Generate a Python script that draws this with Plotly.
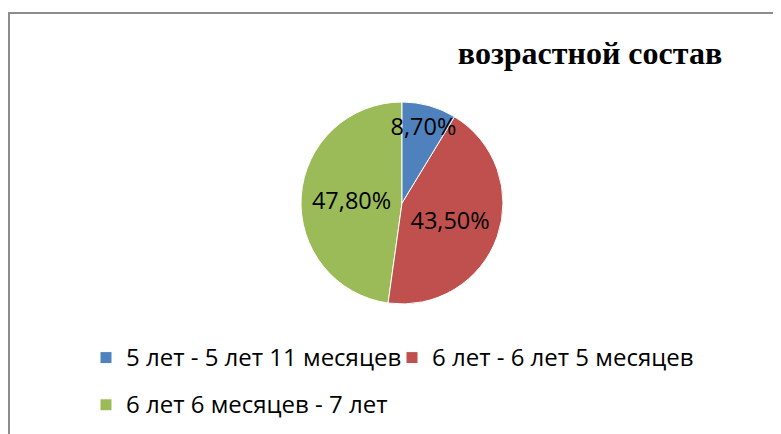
import plotly.graph_objects as go

categories = ["5 лет - 5 лет 11 месяцев", "6 лет - 6 лет 5 месяцев", "6 лет 6 месяцев - 7 лет"]
values = [8.7, 43.5, 47.8]
colors = ["#4F81BD", "#C0504D", "#9BBB59"]
title_text = "возрастной состав"

W, H = 781, 434
OFF = 8  # page body margin offset

# reversed order + counterclockwise = same geometry as clockwise from 12 o'clock,
# but the small slice is drawn last so its label stays on top
labels = [f"<span style='font-size:24px;baseline-shift:5px'>{c}</span>" for c in categories][::-1]
rot = 360 * sum(values[:-1]) / sum(values)

fig = go.Figure(go.Pie(
    labels=labels,
    values=values[::-1],
    sort=False,
    direction="counterclockwise",
    rotation=rot,
    marker=dict(colors=colors[::-1], line=dict(color="white", width=1)),
    texttemplate="%{value:.2f}%",
    textposition="inside",
    insidetextorientation="horizontal",
    textfont=dict(family="Open Sans", size=23.5, color="black"),
    domain=dict(x=[(301 - OFF) / W, (503 - OFF) / W], y=[1 - (304 - OFF) / H, 1 - (102 - OFF) / H]),
    hoverinfo="percent",
))

fig.update_layout(
    width=W, height=H,
    margin=dict(l=0, r=0, t=0, b=0),
    paper_bgcolor="white",
    separators=", ",
    uniformtext=dict(minsize=23.5, mode="show"),
    title=dict(text=title_text, x=(590 - OFF) / W, y=1 - (53 - OFF) / H, xanchor="center", yanchor="middle",
               font=dict(family="Liberation Serif", size=32, color="black", weight="bold")),
    showlegend=True,
    legend=dict(orientation="h", x=78 / W, y=1 - 321 / H, xanchor="left", yanchor="top",
                traceorder="reversed", entrywidth=261, entrywidthmode="pixels",
                font=dict(family="Open Sans", size=34, color="black"),
                itemclick=False, itemdoubleclick=False),
    shapes=[dict(type="rect", xref="paper", yref="paper",
                 x0=1 / W, x1=1.05, y0=-0.05, y1=1 - 5 / H,
                 line=dict(color="#8C8C8C", width=2), fillcolor="rgba(0,0,0,0)", layer="below")],
)

fig.write_html("out.html")
